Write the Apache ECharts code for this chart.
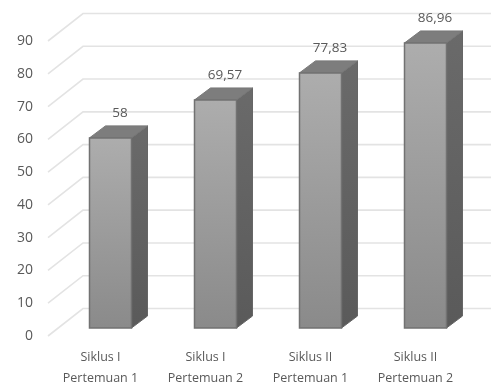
<!DOCTYPE html>
<html>
<head>
<meta charset="utf-8">
<style>html,body{margin:0;padding:0;background:#fff}#chart{width:491px;height:389px}</style>
<script src="https://cdn.jsdelivr.net/npm/echarts@6/dist/echarts.min.js"></script>
</head>
<body>
<div id="chart"></div>
<script>
const categories = ['Siklus I\nPertemuan 1', 'Siklus I\nPertemuan 2', 'Siklus II\nPertemuan 1', 'Siklus II\nPertemuan 2'];
const values = [58, 69.57, 77.83, 86.96];
const valueLabels = ['58', '69,57', '77,83', '86,96'];
const gridTicks = [0, 10, 20, 30, 40, 50, 60, 70, 80, 90];

const FONT = '"Open Sans", sans-serif';
const TEXT = '#595959';

const chart = echarts.init(document.getElementById('chart'), null, { renderer: 'canvas' });

// Sloped floor-to-wall gridlines of the pseudo 3D plot box
function renderWall(params, api) {
  const p = api.coord([0, api.value(0)]);
  const left = params.coordSys.x;
  const right = left + params.coordSys.width;
  const depthX = 35, depthY = 27.5;
  return {
    type: 'polyline',
    shape: { points: [[left, p[1]], [left + depthX, p[1] - depthY], [right + depthX, p[1] - depthY]] },
    style: { stroke: '#e3e3e3', lineWidth: 1.6, fill: null },
    silent: true
  };
}

// A bar as three faces: front, top and right side, standing mid-way into the box
function renderBar(params, api) {
  const i = api.value(0), v = api.value(1);
  const base = api.coord([i, 0]);
  const top = api.coord([i, v]);
  const w = 42, inX = 10, inY = 8, dx = 16, dy = 12;
  const x0 = base[0] + inX - w / 2, x1 = x0 + w;
  const yb = base[1] - inY, yt = top[1] - inY;
  const edge = '#727272';
  return {
    type: 'group',
    children: [
      {
        type: 'polygon',
        shape: { points: [[x1, yt], [x1 + dx, yt - dy], [x1 + dx, yb - dy], [x1, yb]] },
        style: {
          fill: new echarts.graphic.LinearGradient(0, 0, 0, 1, [
            { offset: 0, color: '#6a6a6a' }, { offset: 1, color: '#5a5a5a' }
          ]), stroke: '#666666', lineWidth: 1
        }
      },
      {
        type: 'polygon',
        shape: { points: [[x0, yt], [x0 + dx, yt - dy], [x1 + dx, yt - dy], [x1, yt]] },
        style: { fill: '#7d7d7d', stroke: '#777777', lineWidth: 1 }
      },
      {
        type: 'rect',
        shape: { x: x0, y: yt, width: w, height: yb - yt },
        style: {
          fill: new echarts.graphic.LinearGradient(0, 0, 0, 1, [
            { offset: 0, color: '#adadad' }, { offset: 1, color: '#8a8a8a' }
          ]), stroke: edge, lineWidth: 1.5
        }
      },
      {
        type: 'text',
        style: {
          x: x0 + w / 2 + 9.5, y: yt - dy - 13,
          text: valueLabels[i],
          fill: TEXT, font: '13.5px ' + FONT, align: 'center', verticalAlign: 'middle'
        }
      }
    ]
  };
}

chart.setOption({
  animation: false,
  backgroundColor: '#ffffff',
  grid: { left: 48, top: 41, width: 420, height: 297, containLabel: false },
  xAxis: {
    type: 'category',
    data: categories,
    axisLine: { show: false },
    axisTick: { show: false },
    axisLabel: { color: TEXT, fontFamily: FONT, fontSize: 12.5, lineHeight: 21, margin: 11, interval: 0 }
  },
  yAxis: {
    type: 'value',
    min: 0,
    max: 90,
    interval: 10,
    splitLine: { show: false },
    axisLine: { show: false },
    axisTick: { show: false },
    axisLabel: { color: TEXT, fontFamily: FONT, fontSize: 14, margin: 15 }
  },
  series: [
    {
      type: 'custom',
      coordinateSystem: 'cartesian2d',
      renderItem: renderWall,
      encode: { y: 0 },
      data: gridTicks.map(t => [t]),
      silent: true,
      z: 1
    },
    {
      type: 'custom',
      coordinateSystem: 'cartesian2d',
      renderItem: renderBar,
      encode: { x: 0, y: 1 },
      data: values.map((v, i) => [i, v]),
      z: 2
    }
  ]
});
</script>
</body>
</html>
